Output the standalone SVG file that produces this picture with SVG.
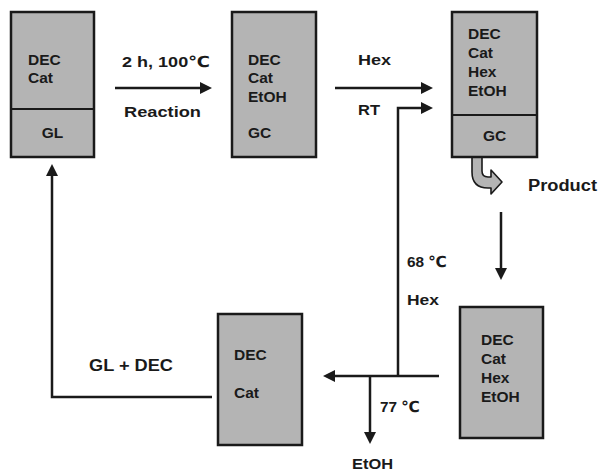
<svg xmlns="http://www.w3.org/2000/svg" width="601" height="472" viewBox="0 0 601 472">
<style>
text{font-family:"Liberation Sans",Arial,"DejaVu Sans",sans-serif;font-weight:bold;fill:#1a1a1a;font-size:15.5px}
.lbl{font-size:16px}
.box{fill:#b4b4b4;stroke:#1a1a1a;stroke-width:2.5}
.div{stroke:#1a1a1a;stroke-width:2}
.ln{fill:none;stroke:#1a1a1a;stroke-width:2.5}
.mid{text-anchor:middle}
</style>
<defs>
<marker id="ah" markerUnits="userSpaceOnUse" markerWidth="13" markerHeight="12" refX="1" refY="6" orient="auto">
<path d="M0,0 L12,6 L0,12 Z" fill="#1a1a1a"/>
</marker>
</defs>
<g id="connectors">
<line class="ln" x1="115" y1="88" x2="201" y2="88" marker-end="url(#ah)"/>
<line class="ln" x1="335" y1="88" x2="422" y2="88" marker-end="url(#ah)"/>
<path class="ln" d="M398,376 V108 H422" marker-end="url(#ah)"/>
<line class="ln" x1="501" y1="212" x2="501" y2="269" marker-end="url(#ah)"/>
<line class="ln" x1="439" y1="376" x2="334" y2="376" marker-end="url(#ah)"/>
<line class="ln" x1="370" y1="376" x2="370" y2="433" marker-end="url(#ah)"/>
<path class="ln" d="M212,397 H52 V175" marker-end="url(#ah)"/>
<path d="M472,157 V172 Q472,188 488,188 H491 V194 L502,182 L491,170 V177 H488 Q482,177 482,171 V157 Z" fill="#b4b4b4" stroke="#1a1a1a" stroke-width="1.6" stroke-linejoin="round"/>
</g>
<g id="box1">
<rect class="box" x="11" y="12" width="83" height="145"/>
<line class="div" x1="11" y1="109" x2="94" y2="109"/>
<text x="28" y="65">DEC</text>
<text x="28" y="83">Cat</text>
<text class="mid" x="52.5" y="138">GL</text>
</g>
<g id="label-reaction">
<text x="122" y="67" textLength="88" lengthAdjust="spacingAndGlyphs">2 h, 100℃</text>
<text x="124" y="117" textLength="77" lengthAdjust="spacingAndGlyphs">Reaction</text>
</g>
<g id="box2">
<rect class="box" x="232" y="12" width="84" height="145"/>
<text x="248" y="65">DEC</text>
<text x="248" y="83">Cat</text>
<text x="248" y="102">EtOH</text>
<text x="248" y="138">GC</text>
</g>
<g id="label-hex">
<text x="358" y="65" textLength="33" lengthAdjust="spacingAndGlyphs">Hex</text>
<text x="358" y="115" textLength="22" lengthAdjust="spacingAndGlyphs">RT</text>
</g>
<g id="box3">
<rect class="box" x="452" y="12" width="85" height="145"/>
<line class="div" x1="452" y1="115" x2="537" y2="115"/>
<text x="468" y="39">DEC</text>
<text x="468" y="58">Cat</text>
<text x="468" y="77">Hex</text>
<text x="468" y="96">EtOH</text>
<text class="mid" x="494.5" y="141">GC</text>
</g>
<g id="label-product">
<text class="lbl" x="528" y="191" textLength="69" lengthAdjust="spacingAndGlyphs">Product</text>
</g>
<g id="box4">
<rect class="box" x="460" y="307" width="83" height="131"/>
<text x="481" y="345">DEC</text>
<text x="481" y="364">Cat</text>
<text x="481" y="383">Hex</text>
<text x="481" y="402">EtOH</text>
</g>
<g id="label-distill">
<text x="407" y="267" textLength="40" lengthAdjust="spacingAndGlyphs">68 ℃</text>
<text x="407" y="305" textLength="32" lengthAdjust="spacingAndGlyphs">Hex</text>
<text x="380" y="412" textLength="40" lengthAdjust="spacingAndGlyphs">77 ℃</text>
<text x="352" y="469" textLength="41" lengthAdjust="spacingAndGlyphs">EtOH</text>
</g>
<g id="box5">
<rect class="box" x="218" y="314" width="84" height="131"/>
<text x="234" y="360">DEC</text>
<text x="234" y="398">Cat</text>
</g>
<g id="label-recycle">
<text class="lbl" x="89" y="371" textLength="84" lengthAdjust="spacingAndGlyphs">GL + DEC</text>
</g>
</svg>
